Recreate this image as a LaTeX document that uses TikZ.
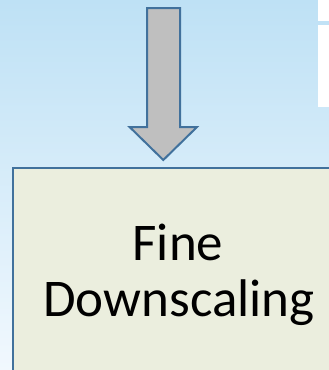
\documentclass[tikz,border=0pt]{standalone}
\usepackage{fontspec}
\setmainfont{Carlito}
\usetikzlibrary{positioning}
\definecolor{skytop}{RGB}{190,225,245}
\definecolor{skybottom}{RGB}{241,248,254}
\definecolor{edgeblue}{RGB}{65,113,156}
\definecolor{boxfill}{RGB}{235,238,222}
\definecolor{arrowgray}{RGB}{191,191,191}
\begin{document}
\begin{tikzpicture}[x=1pt,y=-1pt]
        \tikzstyle{stage}=[draw=edgeblue,line width=2pt,fill=boxfill,anchor=north west,minimum width=334pt,minimum height=260pt]
        \tikzstyle{caption}=[font=\fontsize{53}{53}\selectfont,anchor=base,inner sep=0pt]
        \tikzstyle{flow}=[draw=edgeblue,line width=2pt,fill=arrowgray,line join=miter]
        \clip (0,0) rectangle (329,370);
        \shade[top color=skytop,bottom color=skybottom] (0,0) rectangle (329,370);
        % boxes cut off at the right edge
        \fill[white] (318,0) rectangle (340,20.5);
        \fill[white] (318,24.5) rectangle (340,106.5);
        \begin{scope}
           \node [stage] (fine) at (12,166.5) {};
           \node [caption] (l1) at (178,260) {Fine};
           \node [caption] (l2) at (179,316) {Downscaling};
           \coordinate (tip) at (163.3,160);
           \path[flow] (147,8) -- (180,8) -- (180,127) -- (197,127) -- (tip) -- (129.6,127) -- (147,127) -- cycle;
        \end{scope}
\end{tikzpicture}
\end{document}
